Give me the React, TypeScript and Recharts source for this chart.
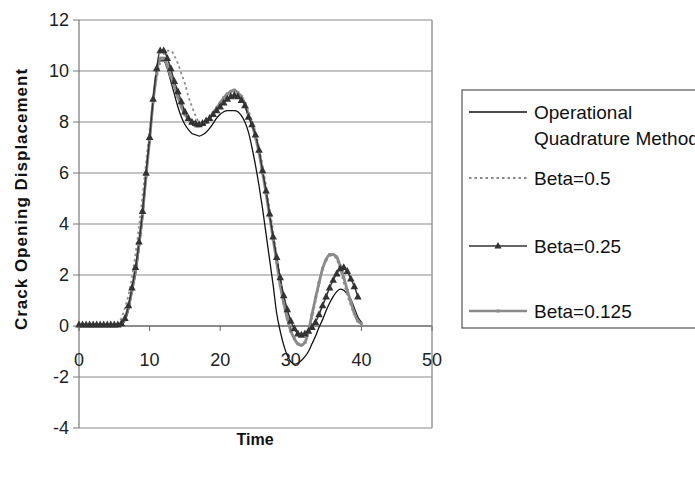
import React from 'react';
import { LineChart, Line, XAxis, YAxis, CartesianGrid, ReferenceLine } from 'recharts';

// time axis (s), step 0.5
const time = [
  0, 0.5, 1, 1.5, 2, 2.5, 3, 3.5, 4, 4.5,
  5, 5.5, 6, 6.5, 7, 7.5, 8, 8.5, 9, 9.5,
  10, 10.5, 11, 11.5, 12, 12.5, 13, 13.5, 14, 14.5,
  15, 15.5, 16, 16.5, 17, 17.5, 18, 18.5, 19, 19.5,
  20, 20.5, 21, 21.5, 22, 22.5, 23, 23.5, 24, 24.5,
  25, 25.5, 26, 26.5, 27, 27.5, 28, 28.5, 29, 29.5,
  30, 30.5, 31, 31.5, 32, 32.5, 33, 33.5, 34, 34.5,
  35, 35.5, 36, 36.5, 37, 37.5, 38, 38.5, 39, 39.5,
  40,
];

const oqm = [
  0, 0, 0, 0, 0, 0, 0, 0, 0, 0,
  0, 0, 0.05, 0.2, 0.6, 1.3, 2.0, 3.0, 4.2, 5.8,
  7.2, 8.7, 9.9, 10.4, 10.4, 10.1, 9.6, 9.1, 8.6, 8.2,
  7.9, 7.7, 7.55, 7.5, 7.45, 7.5, 7.6, 7.75, 7.95, 8.15,
  8.3, 8.4, 8.45, 8.45, 8.45, 8.4, 8.25, 8.0, 7.6, 7.0,
  6.3, 5.5, 4.6, 3.6, 2.6, 1.6, 0.5, -0.2, -0.75, -1.15,
  -1.4, -1.5, -1.45, -1.35, -1.2, -1.0, -0.7, -0.4, -0.05, 0.25,
  0.6, 0.9, 1.15, 1.35, 1.45, 1.4, 1.25, 1.05, 0.7, 0.35,
  0.15,
];

const beta05 = [
  0, 0, 0, 0, 0, 0, 0, 0, 0, 0,
  0, 0.1, 0.3, 0.7, 1.2, 1.9, 2.8, 3.9, 5.1, 6.4,
  7.7, 8.8, 9.7, 10.3, 10.65, 10.8, 10.8, 10.6, 10.3, 9.9,
  9.5, 9.0, 8.6, 8.25, 8.0, 7.9, 7.95, 8.1, 8.3, 8.5,
  8.7, 8.9, 9.05, 9.15, 9.2, 9.15, 9.0, 8.8, 8.45, 8.05,
  7.6, 7.0, 6.3, 5.5, 4.6, 3.7, 2.8, 1.9, 1.1, 0.4,
  -0.15, -0.5, -0.7, -0.75, -0.6, -0.25, 0.3, 0.95, 1.6, 2.2,
  2.6, 2.75, 2.75, 2.6, 2.2, 1.7, 1.2, 0.8, 0.45, 0.2,
  0.1,
];

const beta025 = [
  0.05, 0.05, 0.05, 0.05, 0.05, 0.05, 0.05, 0.05, 0.05, 0.05,
  0.05, 0.05, 0.1, 0.3, 0.8, 1.5, 2.3, 3.3, 4.5, 6.0,
  7.4, 8.9, 10.1, 10.8, 10.8, 10.5, 10.1, 9.6, 9.2, 8.8,
  8.4, 8.15, 8.0, 7.95, 7.9, 7.95, 8.05, 8.15, 8.3, 8.45,
  8.6, 8.75, 8.9, 9.0, 9.05, 9.0, 8.85, 8.65, 8.2, 7.9,
  7.5, 6.9, 6.1, 5.3, 4.4, 3.5, 2.7, 1.9, 1.2, 0.65,
  0.2, -0.1, -0.3, -0.35, -0.3, -0.2, -0.05, 0.15, 0.45, 0.8,
  1.15, 1.5, 1.8, 2.05, 2.25, 2.3, 2.15, 1.85, 1.55, 1.15,
  null,
];

const beta0125 = [
  0.05, 0.05, 0.05, 0.05, 0.05, 0.05, 0.05, 0.05, 0.05, 0.05,
  0.05, 0.05, 0.1, 0.3, 0.75, 1.4, 2.2, 3.2, 4.4, 5.9,
  7.3, 8.8, 9.9, 10.5, 10.5, 10.2, 9.8, 9.4, 9.0, 8.6,
  8.3, 8.1, 7.95, 7.85, 7.85, 7.9, 8.0, 8.15, 8.35, 8.55,
  8.75, 8.95, 9.1, 9.2, 9.25, 9.15, 9.0, 8.7, 8.3, 7.9,
  7.4, 6.8, 6.0, 5.2, 4.3, 3.4, 2.5, 1.6, 0.9, 0.3,
  -0.2, -0.5, -0.7, -0.75, -0.65, -0.2, 0.45, 1.1, 1.7, 2.25,
  2.6, 2.8, 2.8, 2.7, 2.35, 1.9, 1.4, 0.95, 0.5, 0.2,
  0.1,
];

const xTicks = [0, 10, 20, 30, 40, 50];
const yTicks = [-4, -2, 0, 2, 4, 6, 8, 10, 12];

const data = time.map((t, i) => ({
  t,
  oqm: oqm[i],
  b05: beta05[i],
  b025: beta025[i],
  b0125: beta0125[i],
}));

const FONT = '"Liberation Sans", Arial, sans-serif';
const W = 695;
const H = 477;
const PLOT_LEFT = 79;
const PLOT_TOP = 20;
const PLOT_RIGHT = 432;
const PLOT_BOTTOM = 428;
const Y_MIN = -4;
const Y_MAX = 12;
const Y_AXIS_W = 60;
const X_AXIS_H = 30;
// Excel puts the category axis where y = 0
const ZERO_Y = PLOT_TOP + ((PLOT_BOTTOM - PLOT_TOP) * Y_MAX) / (Y_MAX - Y_MIN);

const XTick = (props: any) => {
  const { x, payload } = props;
  return (
    <g>
      <line x1={x} x2={x} y1={ZERO_Y} y2={ZERO_Y + 5} stroke="#666" />
      <text x={x} y={ZERO_Y + 40} textAnchor="middle" fontSize={18} fill="#222" fontFamily={FONT}>
        {payload.value}
      </text>
    </g>
  );
};

const triangle = (cx: number, cy: number, s: number) =>
  `M${cx},${cy - s} L${cx + s * 0.9},${cy + s * 0.65} L${cx - s * 0.9},${cy + s * 0.65} Z`;

const TriangleDot = (props: any) => {
  const { cx, cy, index } = props;
  if (cx == null || cy == null || props.value == null) return <g key={index} />;
  return <path key={index} d={triangle(cx, cy, 4.2)} fill="#333" />;
};

const SmallDot = (props: any) => {
  const { cx, cy, index } = props;
  if (cx == null || cy == null) return <g key={index} />;
  return <rect key={index} x={cx - 1.5} y={cy - 1.5} width={3} height={3} fill="#8a8a8a" />;
};

const LegendBox = () => {
  const x0 = 469;
  const x1 = 527;
  const tx = 534;
  const rows = [
    { y: 112, dash: undefined, color: '#111', w: 1.3, marker: null },
    { y: 178, dash: '2.5 3', color: '#888', w: 1.8, marker: null },
    { y: 246, dash: undefined, color: '#333', w: 1.5, marker: 'tri' },
    { y: 311, dash: undefined, color: '#8a8a8a', w: 2.5, marker: 'sq' },
  ];
  const labels = [
    { y: 112, text: 'Operational' },
    { y: 138, text: 'Quadrature Method' },
    { y: 178, text: 'Beta=0.5' },
    { y: 246, text: 'Beta=0.25' },
    { y: 311, text: 'Beta=0.125' },
  ];
  const mid = (x0 + x1) / 2;
  return (
    <svg width={W} height={H} style={{ position: 'absolute', left: 0, top: 0, pointerEvents: 'none' }}>
      <rect x={462} y={90} width={300} height={238} fill="#fff" stroke="#555" strokeWidth={1.2} />
      {rows.map((r, i) => (
        <g key={i}>
          <line x1={x0} x2={x1} y1={r.y} y2={r.y} stroke={r.color} strokeWidth={r.w} strokeDasharray={r.dash} />
          {r.marker === 'tri' && <path d={triangle(mid, r.y, 4)} fill="#333" />}
          {r.marker === 'sq' && <rect x={mid - 1.5} y={r.y - 1.5} width={3} height={3} fill="#8a8a8a" />}
        </g>
      ))}
      {labels.map((l, i) => (
        <text key={i} x={tx} y={l.y + 6.5} fontSize={19} fill="#111" fontFamily={FONT}>
          {l.text}
        </text>
      ))}
    </svg>
  );
};

export default function App() {
  return (
    <div style={{ position: 'absolute', left: 0, top: 0, width: W, height: H, background: '#fff', overflow: 'hidden' }}>
      <LineChart
        width={W}
        height={H}
        data={data}
        margin={{
          top: PLOT_TOP,
          right: W - PLOT_RIGHT,
          left: PLOT_LEFT - Y_AXIS_W,
          bottom: H - PLOT_BOTTOM - X_AXIS_H,
        }}
      >
        <CartesianGrid vertical={false} stroke="#8a8a8a" strokeWidth={1.2} />
        <XAxis
          dataKey="t"
          type="number"
          domain={[0, 50]}
          ticks={xTicks}
          interval={0}
          axisLine={false}
          tickLine={false}
          height={X_AXIS_H}
          tick={<XTick />}
        />
        <YAxis
          type="number"
          domain={[Y_MIN, Y_MAX]}
          ticks={yTicks}
          interval={0}
          width={Y_AXIS_W}
          axisLine={{ stroke: '#777', strokeWidth: 1.2 }}
          tickLine={{ stroke: '#777' }}
          tickSize={6}
          tickMargin={4}
          tick={{ fontSize: 18, fill: '#222', fontFamily: FONT }}
        />
        <ReferenceLine y={0} stroke="#555" strokeWidth={1.2} />
        <ReferenceLine x={50} stroke="#9a9a9a" strokeWidth={1.5} />
        <Line
          dataKey="oqm"
          type="monotone"
          stroke="#111"
          strokeWidth={1.3}
          dot={false}
          isAnimationActive={false}
        />
        <Line
          dataKey="b0125"
          type="monotone"
          stroke="#8a8a8a"
          strokeWidth={2.8}
          dot={SmallDot}
          isAnimationActive={false}
        />
        <Line
          dataKey="b05"
          type="monotone"
          stroke="#8c8c8c"
          strokeWidth={1.8}
          strokeDasharray="2.5 3"
          dot={false}
          isAnimationActive={false}
        />
        <Line
          dataKey="b025"
          type="monotone"
          stroke="#333"
          strokeWidth={1.5}
          dot={TriangleDot}
          isAnimationActive={false}
        />
      </LineChart>
      <LegendBox />
      <div
        style={{
          position: 'absolute',
          left: 22,
          top: 199,
          transform: 'translate(-50%, -50%) rotate(-90deg)',
          whiteSpace: 'nowrap',
          fontFamily: FONT,
          fontWeight: 'bold',
          fontSize: 17,
          letterSpacing: 1,
          color: '#111',
        }}
      >
        Crack Opening Displacement
      </div>
      <div
        style={{
          position: 'absolute',
          left: 255,
          top: 440,
          transform: 'translate(-50%, -50%)',
          whiteSpace: 'nowrap',
          fontFamily: FONT,
          fontWeight: 'bold',
          fontSize: 16,
          color: '#111',
        }}
      >
        Time
      </div>
    </div>
  );
}
